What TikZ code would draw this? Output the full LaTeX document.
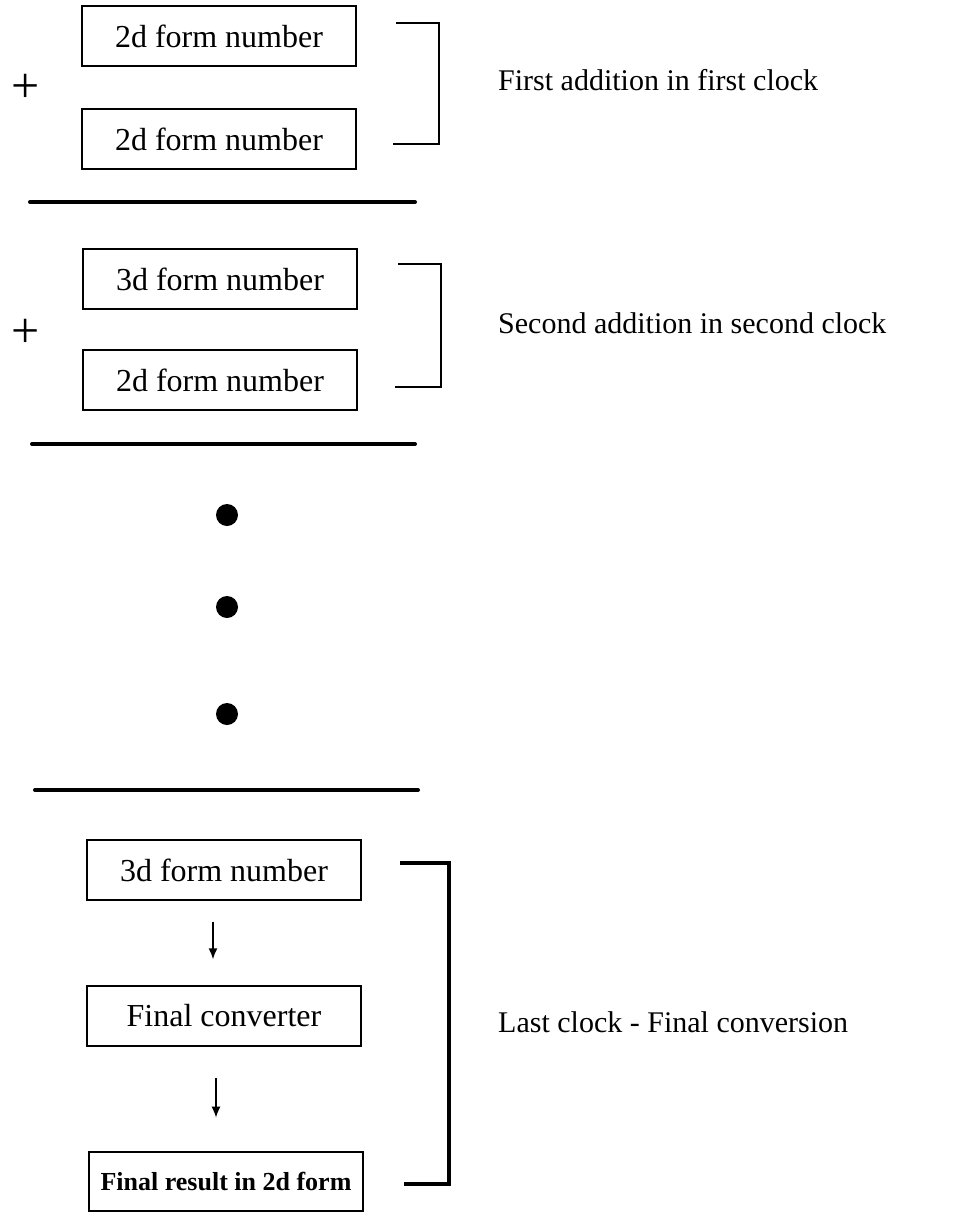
\documentclass[tikz,border=0pt]{standalone}
\usepackage{fontspec}
\setmainfont{Liberation Serif}
\usetikzlibrary{arrows.meta}
\tikzset{
    numbox/.style={draw, line width=1.4pt, rectangle, minimum width=274pt,
        minimum height=60pt, inner sep=0pt, font=\fontsize{32}{36}\selectfont},
    clocklabel/.style={anchor=west, inner sep=0pt, font=\fontsize{30}{34}\selectfont},
    sep/.style={line width=4pt, line cap=round},
    brk/.style={line width=2.8pt},
    plussign/.style={inner sep=0pt, font=\fontsize{50}{50}\selectfont},
    dot/.style={circle, fill, minimum size=22pt, inner sep=0pt}
}
\begin{document}
\begin{tikzpicture}[x=1pt, y=-1pt, >={Latex[length=11pt, width=9pt]}]
    \useasboundingbox[fill=white] (0,0) rectangle (960,1212);
    % first clock
    \node[numbox] (a1) at (219,36) {2d form number};
    \node[numbox] (a2) at (219,139) {2d form number};
    \node[plussign] (p1) at (26,88) {+};
    \draw[brk] (396,23) -- (439,23) -- (439,144) -- (393,144);
    \node[clocklabel] (l1) at (498,80) {First addition in first clock};
    \draw[sep] (30,202) -- (415,202);
    % second clock
    \node[numbox] (b1) at (220,279) {3d form number};
    \node[numbox] (b2) at (220,380) {2d form number};
    \node[plussign] (p2) at (26,333) {+};
    \draw[brk] (398,264) -- (441,264) -- (441,387) -- (395,387);
    \node[clocklabel] (l2) at (498,323) {Second addition in second clock};
    \draw[sep] (32,444) -- (415,444);
    % dots
    \foreach \y/\n in {515/d1, 607/d2, 714/d3}
        \node[dot] (\n) at (227,\y) {};
    \draw[sep] (35,790) -- (418,790);
    % last clock
    \node[numbox] (c1) at (224,870) {3d form number};
    \node[numbox] (c2) at (224,1016) {Final converter};
    \node[numbox, font=\fontsize{26}{30}\selectfont\bfseries,
        minimum height=59pt] (c3) at (226,1181.5) {Final result in 2d form};
    \draw[->, line width=1.6pt] ([xshift=-11pt, yshift=-21pt]c1.south)
        -- ([xshift=-11pt, yshift=26pt]c2.north);
    \draw[->, line width=1.6pt] ([xshift=-8pt, yshift=-31pt]c2.south)
        -- ++(0,40);
    \draw[line width=4pt] (400,863) -- (449,863) -- (449,1184) -- (404,1184);
    \node[clocklabel] (l3) at (498,1022) {Last clock - Final conversion};
\end{tikzpicture}
\end{document}
